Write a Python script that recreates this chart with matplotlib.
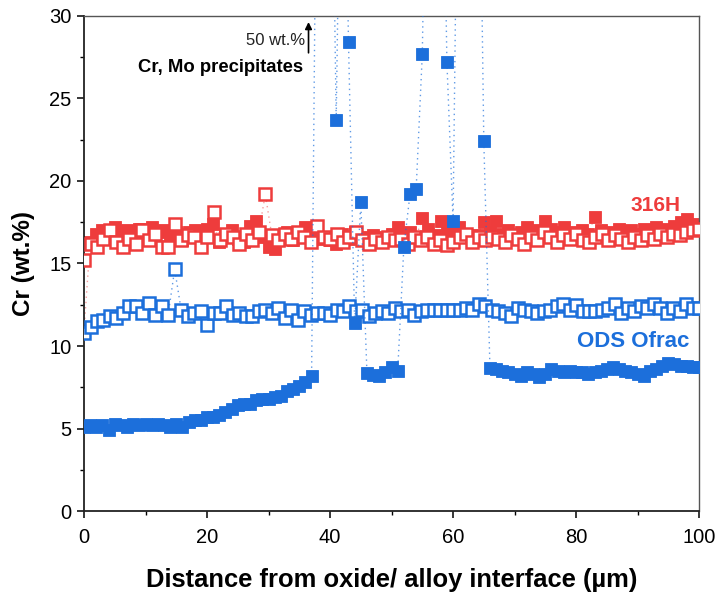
import numpy as np
import matplotlib
matplotlib.use("Agg")
import matplotlib.pyplot as plt
from matplotlib.ticker import MultipleLocator

# Cr line scans (wt.%), evenly spaced along 0-100 um
red_filled = [
    11.0, 16.3, 16.8, 17.0, 16.6, 17.2, 16.5, 17.0, 16.8, 17.1,
    16.7, 17.2, 16.9, 17.0, 16.5, 16.9, 16.4, 16.9, 17.0, 16.6,
    17.1, 17.4, 16.3, 16.8, 17.0, 16.5, 16.3, 17.3, 17.6, 16.6,
    16.0, 15.9, 16.6, 16.9, 16.4, 16.6, 17.2, 16.9, 16.5, 16.6,
    16.4, 16.2, 16.8, 16.5, 16.9, 16.6, 16.4, 16.7, 16.5, 16.6,
    16.8, 17.2, 16.5, 16.9, 16.6, 17.75, 17.1, 16.7, 17.6, 16.9,
    17.2, 17.2, 16.8, 16.6, 16.7, 17.5, 16.9, 17.6, 16.8, 17.0,
    16.7, 16.9, 17.2, 16.8, 17.0, 17.6, 17.1, 16.9, 17.2, 16.8,
    16.9, 17.0, 16.8, 17.8, 17.0, 16.9, 16.8, 17.1, 16.9, 17.0,
    16.8, 17.1, 17.0, 17.2, 17.0, 17.1, 17.3, 17.5, 17.7, 17.4,
    17.3,
]
red_open = [
    15.2, 16.2, 16.0, 16.5, 17.0, 16.3, 16.0, 16.5, 16.2, 17.0,
    16.4, 16.8, 16.0, 16.0, 17.4, 16.4, 16.7, 16.6, 16.0, 16.6,
    18.1, 16.4, 16.8, 16.6, 16.2, 16.8, 16.4, 16.9, 19.2, 16.7,
    16.4, 16.8, 16.5, 16.9, 16.6, 16.3, 17.3, 16.6, 16.5, 16.8,
    16.3, 16.6, 16.9, 16.4, 16.2, 16.5, 16.3, 16.6, 16.4, 16.5,
    16.2, 16.6, 16.4, 16.6, 16.2, 16.4, 16.1, 16.3, 16.6, 16.8,
    16.3, 16.6, 16.4, 16.6, 16.5, 16.3, 16.7, 16.5, 16.2, 16.6,
    16.4, 16.9, 16.6, 16.3, 16.7, 16.5, 16.8, 16.4, 16.3, 16.6,
    16.8, 16.4, 16.7, 16.5, 16.3, 16.6, 16.4, 16.7, 16.5, 16.8,
    16.6, 16.8, 16.7, 16.9, 17.0, 17.1,
]
blue_open = [
    10.8, 11.15, 11.5, 11.6, 11.8, 11.7, 12.0, 12.4, 12.4, 12.0,
    12.6, 11.9, 12.4, 11.9, 14.65, 12.2, 11.8, 12.0, 12.1, 11.3,
    12.0, 12.0, 12.4, 11.9, 12.0, 11.8, 11.8, 12.1, 12.2, 12.0,
    12.3, 11.7, 12.2, 11.6, 12.1, 11.9, 12.0, 12.0, 11.9, 12.2,
    12.1, 12.4, 12.1, 12.2, 11.8, 12.0, 12.1, 12.0, 12.3, 12.1,
    12.2, 11.9, 12.1, 12.2, 12.2, 12.2, 12.2, 12.2, 12.2, 12.3,
    12.2, 12.55, 12.4, 12.2, 12.1, 12.0, 11.8, 12.3, 12.2, 12.1,
    12.0, 12.1, 12.2, 12.4, 12.55, 12.2, 12.5, 12.1, 12.1, 12.1,
    12.2, 12.3, 12.55, 12.0, 12.3, 12.1, 12.4, 12.3, 12.55, 12.3,
    12.0, 12.3, 12.1, 12.55, 12.3, 12.3,
]
# 50 = precipitate readings that run off the top of the axis
blue_filled = [
    5.1, 5.2, 5.1, 5.2, 4.9, 5.3, 5.2, 5.1, 5.3, 5.2,
    5.3, 5.2, 5.3, 5.2, 5.1, 5.3, 5.1, 5.4, 5.5, 5.5,
    5.7, 5.7, 5.8, 6.0, 6.2, 6.4, 6.5, 6.5, 6.7, 6.8,
    6.8, 6.9, 7.0, 7.3, 7.4, 7.6, 7.8, 8.2, 50, 50,
    50, 23.7, 50, 28.4, 11.4, 18.7, 8.35, 8.25, 8.2, 8.45,
    8.75, 8.5, 16.0, 19.2, 19.5, 27.7, 50, 50, 50, 27.2,
    17.6, 50, 50, 50, 50, 22.4, 8.65, 8.6, 8.5, 8.4,
    8.3, 8.2, 8.4, 8.3, 8.1, 8.3, 8.6, 8.5, 8.4, 8.5,
    8.45, 8.4, 8.3, 8.4, 8.5, 8.6, 8.7, 8.6, 8.5, 8.4,
    8.3, 8.2, 8.5, 8.6, 8.8, 9.0, 8.9, 8.8, 8.8, 8.75,
    8.7,
]

RED = "#EE3C3C"
BLUE = "#1C6FDB"
FONT = ["Liberation Sans", "DejaVu Sans"]

fig = plt.figure(figsize=(7.17, 5.94), dpi=100)
ax = fig.add_axes([0.1172, 0.1397, 0.8578, 0.8334])


def scan(y, color, filled, z, line_alpha):
    x = np.linspace(0, 100, len(y))
    ax.plot(x, y, linestyle=(0, (1, 2.8)), lw=1.0, color=color,
            alpha=line_alpha, zorder=z)
    ax.plot(x, y, linestyle="none", marker="s", ms=8.0,
            mfc=color if filled else "white", mec=color,
            mew=0.6 if filled else 1.8, zorder=z + 0.5)


scan(red_filled, RED, True, 2, 0.5)
scan(red_open, RED, False, 3, 0.5)
scan(blue_open, BLUE, False, 4, 0.7)
scan(blue_filled, BLUE, True, 5, 0.7)

ax.set_xlim(0, 100)
ax.set_ylim(0, 30)
ax.xaxis.set_major_locator(MultipleLocator(20))
ax.xaxis.set_minor_locator(MultipleLocator(10))
ax.yaxis.set_major_locator(MultipleLocator(5))
ax.yaxis.set_minor_locator(MultipleLocator(2.5))
ax.tick_params(which="major", direction="out", length=5, width=1.1,
               labelsize=14.5, top=False, right=False, pad=4)
ax.tick_params(axis="x", which="major", pad=7)
ax.tick_params(which="minor", direction="out", length=3, width=1.0,
               top=False, right=False)
for lab in ax.get_xticklabels() + ax.get_yticklabels():
    lab.set_family(FONT)
for side in ["left", "bottom"]:
    ax.spines[side].set_linewidth(1.3)
    ax.spines[side].set_color("#222222")
for side in ["top", "right"]:
    ax.spines[side].set_linewidth(1.0)
    ax.spines[side].set_color("#555555")

ax.set_xlabel("Distance from oxide/ alloy interface (\u00b5m)", family=FONT,
              fontsize=18.4, fontweight="bold", labelpad=15)
ax.set_ylabel("Cr (wt.%)", family=FONT, fontsize=17.5, fontweight="bold",
              labelpad=10)

ax.text(97.0, 18.5, "316H", color=RED, family=FONT, fontsize=15,
        fontweight="bold", ha="right", va="center")
ax.text(98.4, 10.25, "ODS Ofrac", color=BLUE, family=FONT, fontsize=16,
        fontweight="bold", ha="right", va="center")
ax.text(35.9, 28.5, "50 wt.%", family=FONT, fontsize=12,
        ha="right", va="center", color="#222222")
ax.text(35.6, 26.85, "Cr, Mo precipitates", family=FONT, fontsize=13.3,
        fontweight="bold", ha="right", va="center")
ax.annotate("", xy=(36.5, 29.8), xytext=(36.5, 27.6),
            arrowprops=dict(arrowstyle="-|>", color="black", lw=1.2,
                            mutation_scale=10))

fig.savefig("out.png", dpi=100)
